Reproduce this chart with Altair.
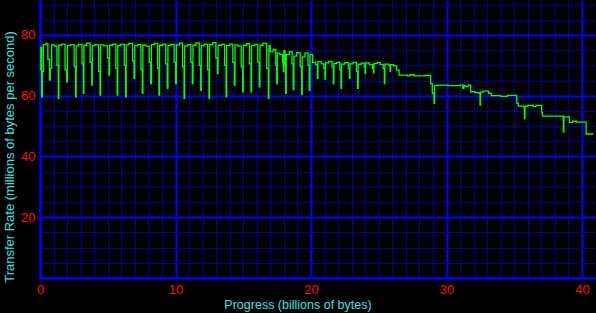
import altair as alt
import pandas as pd

# Progress (billions of bytes) and transfer rate (millions of bytes per second)
progress = [
    0.00, 0.06, 0.12, 0.17, 0.25, 0.45, 0.58, 0.70, 0.76, 0.86,
    1.05, 1.25, 1.35, 1.39, 1.60, 1.85, 1.97, 2.02, 2.25, 2.52,
    2.63, 2.67, 2.85, 3.10, 3.20, 3.24, 3.45, 3.70, 3.82, 3.86,
    4.05, 4.33, 4.43, 4.47, 4.70, 4.98, 5.09, 5.14, 5.35, 5.60,
    5.70, 5.74, 5.95, 6.22, 6.32, 6.36, 6.55, 6.83, 6.94, 6.99,
    7.20, 7.45, 7.55, 7.59, 7.80, 8.06, 8.17, 8.22, 8.45, 8.68,
    8.78, 8.82, 9.05, 9.28, 9.39, 9.44, 9.65, 9.90, 10.01, 10.06,
    10.30, 10.52, 10.63, 10.67, 10.90, 11.13, 11.24, 11.29, 11.50, 11.75,
    11.86, 11.90, 12.12, 12.37, 12.47, 12.51, 12.75, 12.98, 13.09, 13.14,
    13.40, 13.62, 13.73, 13.77, 14.00, 14.23, 14.34, 14.39, 14.60, 14.85,
    14.96, 15.00, 15.25, 15.46, 15.57, 15.61, 15.85, 16.07, 16.18, 16.23,
    16.45, 16.73, 16.85, 16.89,
    17.00, 17.20, 17.40, 17.47, 17.52, 17.70, 17.90, 17.96, 18.00, 18.08,
    18.13, 18.17, 18.40, 18.60, 18.69, 18.74, 18.95, 19.20, 19.31, 19.35,
    19.55, 19.78, 19.87, 19.92,
    20.12, 20.35, 20.47, 20.51, 20.75, 20.95, 21.03, 21.07, 21.30, 21.55,
    21.65, 21.69, 21.90, 22.12, 22.21, 22.25, 22.50, 22.75, 22.83, 22.87,
    23.10, 23.35, 23.44, 23.48, 23.70, 23.92, 23.99, 24.03, 24.30, 24.55,
    24.60, 24.64, 24.90, 25.10, 25.33, 25.41, 25.45, 25.75, 25.83, 25.87,
    26.10, 26.32, 26.50,
    27.10, 27.30, 27.60, 28.40, 28.83, 28.95, 29.08, 29.12, 29.40, 30.10,
    31.00, 31.20, 31.28, 31.40, 31.60, 31.78, 32.10, 32.40, 32.47, 32.51,
    32.70, 33.10, 33.30, 34.00, 34.50, 35.18, 35.30, 35.70, 35.75, 35.79,
    36.00, 36.40, 36.60, 37.02, 37.08, 38.00, 38.62, 38.66, 39.07, 39.30,
    39.60, 40.30, 40.84,
]
rate = [
    68.5, 76.0, 59.6, 68.0, 76.8, 77.2, 72.0, 65.1, 69.0, 76.7,
    76.3, 70.0, 59.1, 76.6, 77.0, 68.5, 64.6, 76.5, 76.8, 69.5,
    59.6, 76.4, 76.9, 70.5, 60.8, 76.6, 77.3, 71.0, 63.5, 76.5,
    76.8, 68.0, 60.2, 76.7, 76.4, 72.5, 66.8, 76.6, 77.0, 69.0,
    60.2, 76.5, 76.9, 70.0, 59.6, 76.7, 77.2, 71.5, 65.7, 76.5,
    76.8, 68.5, 60.8, 76.6, 76.3, 71.0, 64.0, 76.8, 77.2, 69.0,
    60.2, 76.6, 77.0, 70.5, 62.4, 76.5, 76.9, 71.0, 64.0, 76.7,
    77.3, 69.5, 59.1, 76.4, 76.8, 71.0, 64.0, 76.6, 77.4, 70.0,
    61.8, 76.5, 77.0, 68.5, 59.1, 76.8, 77.5, 72.5, 67.3, 76.6,
    76.9, 70.0, 59.6, 76.5, 77.0, 71.0, 63.5, 76.7, 76.3, 69.5,
    61.3, 76.6, 77.1, 70.5, 61.3, 76.5, 76.9, 71.0, 62.9, 76.6,
    77.2, 69.0, 59.1, 76.4,
    74.5, 75.2, 70.0, 64.0, 74.0, 73.5, 71.0, 67.9, 74.8, 70.0,
    60.8, 73.5, 74.5, 70.5, 62.0, 73.0, 74.2, 69.5, 60.4, 72.8,
    74.0, 70.0, 61.8, 73.5,
    71.0, 70.2, 65.7, 71.2, 70.5, 69.0, 65.5, 70.8, 71.3, 69.5,
    64.0, 70.6, 71.0, 68.5, 62.4, 70.4, 70.9, 69.0, 65.7, 70.5,
    71.0, 68.0, 62.4, 70.3, 70.7, 69.5, 67.3, 70.8, 70.2, 69.0,
    67.5, 70.6, 70.9, 70.3, 69.0, 64.0, 70.4, 70.0, 67.9, 70.2,
    69.8, 68.4, 66.8,
    66.5, 66.9, 66.5, 66.7, 64.0, 60.8, 57.5, 63.3, 63.5, 63.3,
    63.5, 62.4, 63.3, 63.0, 63.5, 61.3, 61.0, 60.8, 56.9, 61.2,
    61.5, 60.8, 60.0, 59.8, 60.1, 57.5, 56.6, 56.4, 52.5, 56.6,
    56.8, 56.4, 56.8, 54.5, 53.3, 53.3, 48.1, 53.0, 51.2, 51.6,
    51.3, 47.4, 47.4,
]

x_grid = list(range(0, 41))
y_grid = list(range(0, 95, 5))

df = pd.DataFrame({"progress": progress, "rate": rate})

x_axis = alt.Axis(
    values=x_grid,
    title="Progress (billions of bytes)",
    grid=True,
    gridColor=alt.condition("datum.value % 10 === 0", alt.value("#0000ff"), alt.value("#00009c")),
    gridWidth=alt.condition("datum.value % 10 === 0", alt.value(2), alt.value(1)),
    labelExpr="datum.value % 10 === 0 ? datum.label : ''",
    labelOverlap=False,
    labelFlush=False,
    ticks=False,
    labelPadding=5,
    domainColor="#0000ff",
    domainWidth=2,
    labelColor="#ff1010",
    labelFont="Liberation Sans",
    labelFontSize=13,
    titleColor="#40e0e0",
    titleFont="Liberation Sans",
    titleFontSize=12.5,
    titleFontWeight="normal",
    titleX=257.5,
    titleY=30.5,
    titleAlign="center",
    titleBaseline="alphabetic",
)

y_axis = alt.Axis(
    values=y_grid,
    title="Transfer Rate (millions of bytes per second)",
    grid=True,
    gridColor=alt.condition("datum.value % 20 === 0", alt.value("#0000ff"), alt.value("#00009c")),
    gridWidth=alt.condition("datum.value % 20 === 0", alt.value(2), alt.value(1)),
    labelExpr="datum.value % 20 === 0 && datum.value > 0 ? datum.label : ''",
    labelOverlap=False,
    labelFlush=False,
    ticks=False,
    labelPadding=5,
    domainColor="#0000ff",
    domainWidth=2,
    labelColor="#ff1010",
    labelFont="Liberation Sans",
    labelFontSize=13,
    labelBaseline="middle",
    titleColor="#40e0e0",
    titleFont="Liberation Sans",
    titleFontSize=13,
    titleFontWeight="normal",
    titleAngle=270,
    titleX=-27,
    titleY=156.5,
    titleAlign="center",
    titleBaseline="alphabetic",
)

chart = (
    alt.Chart(df)
    .mark_line(color="#00ff00", strokeWidth=1.3, interpolate="step-after", clip=True)
    .encode(
        x=alt.X("progress:Q", scale=alt.Scale(domain=[0, 41.03], nice=False, zero=False), axis=x_axis),
        y=alt.Y("rate:Q", scale=alt.Scale(domain=[0, 91.5], nice=False), axis=y_axis),
    )
    .properties(
        width=556,
        height=278,
        autosize=alt.AutoSizeParams(type="none"),
        padding={"left": 40, "top": 0, "right": 0, "bottom": 35},
        background="#000000",
    )
    .configure_view(stroke="transparent")
)

chart.save("out.html", embed_options={"renderer": "svg", "actions": False})
